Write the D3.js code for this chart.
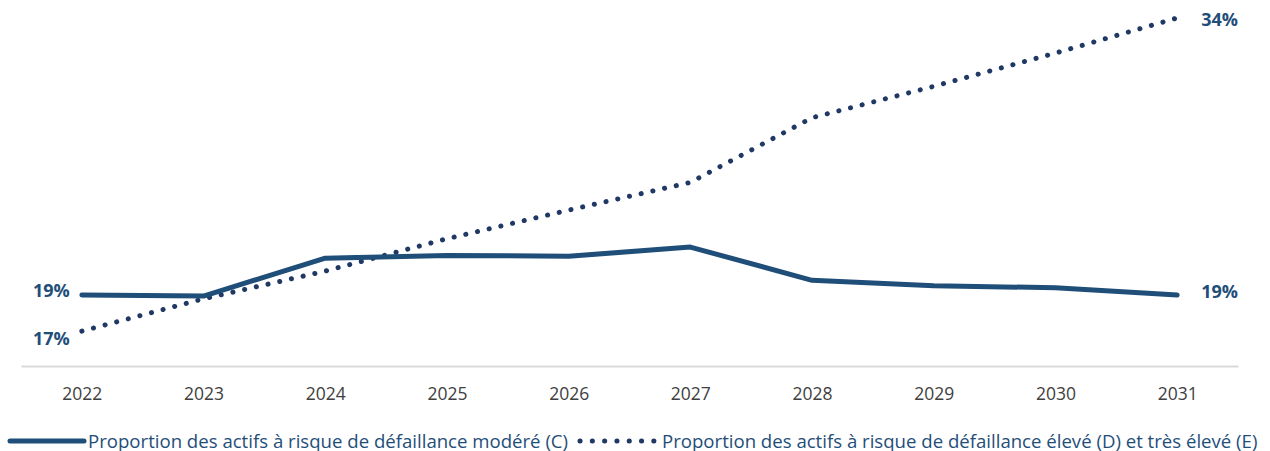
<!DOCTYPE html>
<html>
<head>
<meta charset="utf-8">
<script src="https://cdnjs.cloudflare.com/ajax/libs/d3/7.8.5/d3.min.js"></script>
<style>
  body { margin: 0; background: #fff; }
  text { font-family: "Open Sans", "Liberation Sans", sans-serif; }
</style>
</head>
<body>
<div id="chart-area"></div>
<script>
var years = ["2022", "2023", "2024", "2025", "2026", "2027", "2028", "2029", "2030", "2031"];
var moderate = [19.0, 18.95, 21.0, 21.15, 21.1, 21.6, 19.8, 19.5, 19.4, 19.0];
var high = [17.05, 18.8, 20.3, 22.05, 23.6, 25.1, 28.6, 30.3, 32.1, 34.0];
var seriesNames = [
    "Proportion des actifs à risque de défaillance modéré (C)",
    "Proportion des actifs à risque de défaillance élevé (D) et très élevé (E)"
];

var width = 1270,
    height = 451;

var svg = d3.select("#chart-area")
    .append("svg")
    .attr("width", width)
    .attr("height", height);

var x = d3.scalePoint()
    .domain(years)
    .range([21, 1238])
    .padding(0.5);

var y = d3.scaleLinear()
    .domain([15, 35])
    .range([369, -0.5]);

// axis line + year labels
var xAxis = d3.axisBottom(x).tickSize(0).tickPadding(22);
var gx = svg.append("g")
    .attr("transform", "translate(0,366)")
    .call(xAxis);
gx.select(".domain").attr("stroke", "#d9d9d9").attr("stroke-width", 2);
gx.selectAll("text")
    .attr("fill", "#404040")
    .style("font-size", "17.5px");

var line = d3.line()
    .x(function(d, i) { return x(years[i]); })
    .y(function(d) { return y(d); });

svg.append("path")
    .datum(high)
    .attr("d", line)
    .attr("fill", "none")
    .attr("stroke", "#203864")
    .attr("stroke-width", 5)
    .attr("stroke-linecap", "round")
    .attr("stroke-dasharray", "0.1 11.9");

svg.append("path")
    .datum(moderate)
    .attr("d", line)
    .attr("fill", "none")
    .attr("stroke", "#1f4e79")
    .attr("stroke-width", 5)
    .attr("stroke-linecap", "round")
    .attr("stroke-linejoin", "round");

// end labels
var labels = [
    {v: moderate[0], i: 0, side: "left", dy: 2},
    {v: high[0], i: 0, side: "left", dy: 14},
    {v: moderate[9], i: 9, side: "right", dy: 3},
    {v: high[9], i: 9, side: "right", dy: 8}
];
svg.selectAll(".end-label")
    .data(labels)
    .enter().append("text")
    .attr("class", "end-label")
    .attr("x", function(d) { return d.side == "left" ? x(years[d.i]) - 12 : x(years[d.i]) + 24; })
    .attr("y", function(d) { return y(d.v) + d.dy; })
    .attr("text-anchor", function(d) { return d.side == "left" ? "end" : "start"; })
    .attr("fill", "#1f4e79")
    .style("font-size", "18px")
    .style("font-weight", "bold")
    .text(function(d) { return Math.round(d.v) + "%"; });

// legend
var legend = svg.append("g").attr("transform", "translate(0,441)");
legend.append("line")
    .attr("x1", 10).attr("x2", 84)
    .attr("stroke", "#1f4e79").attr("stroke-width", 5)
    .attr("stroke-linecap", "round");
legend.append("text")
    .attr("x", 88).attr("y", 6.5)
    .attr("fill", "#1f4e79")
    .style("font-size", "18.6px")
    .text(seriesNames[0]);
legend.append("line")
    .attr("x1", 580).attr("x2", 654)
    .attr("stroke", "#203864").attr("stroke-width", 5)
    .attr("stroke-linecap", "round")
    .attr("stroke-dasharray", "0.1 12.2");
legend.append("text")
    .attr("x", 662).attr("y", 6.5)
    .attr("fill", "#1f4e79")
    .style("font-size", "18.6px")
    .text(seriesNames[1]);
</script>
</body>
</html>
